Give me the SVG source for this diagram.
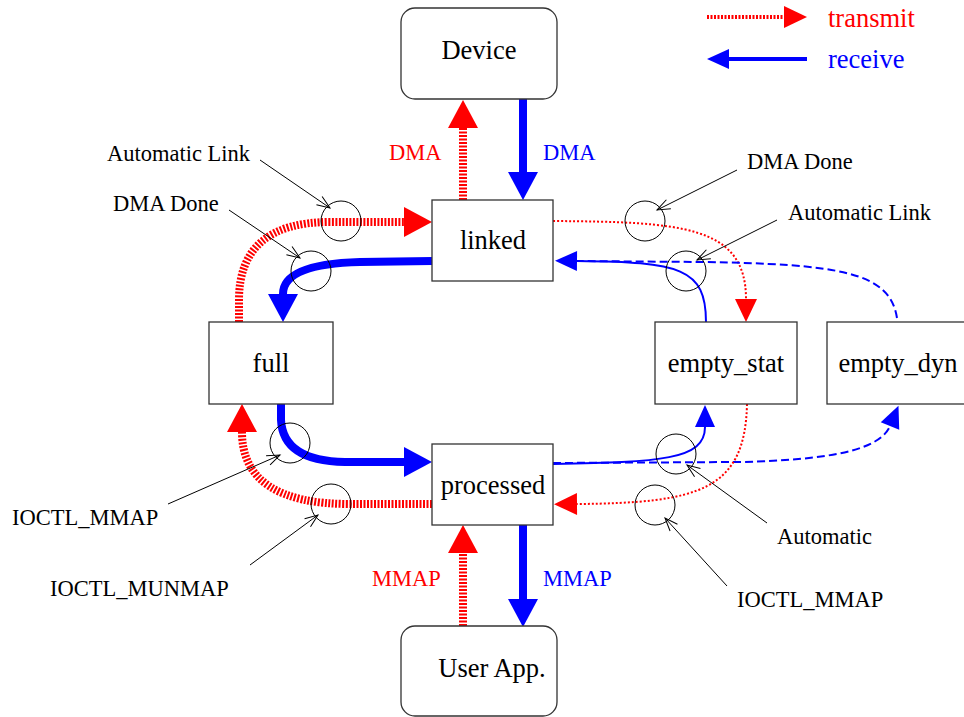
<svg xmlns="http://www.w3.org/2000/svg" width="964" height="717" viewBox="0 0 964 717">
<style>
.box{fill:#fff;stroke:#333;stroke-width:1.3}
.nl{font-family:"Liberation Serif","Times New Roman",serif;font-size:26.5px;text-anchor:middle;fill:#000}
.an{font-family:"Liberation Serif","Times New Roman",serif;font-size:22.5px;fill:#000}
.lr{font-family:"Liberation Serif","Times New Roman",serif;font-size:22.5px;fill:#f00}
.lb{font-family:"Liberation Serif","Times New Roman",serif;font-size:22.5px;fill:#00f}
.lg{font-family:"Liberation Serif","Times New Roman",serif;font-size:26.5px}
.rt{fill:none;stroke:#f00;stroke-width:8;stroke-dasharray:2 1.5}
.bt{fill:none;stroke:#00f;stroke-width:8}
.rd{fill:none;stroke:#f00;stroke-width:2;stroke-dasharray:2 2}
.bs{fill:none;stroke:#00f;stroke-width:2}
.bd{fill:none;stroke:#00f;stroke-width:2;stroke-dasharray:8 4}
.ann{fill:none;stroke:#000;stroke-width:1}
.cir{fill:none;stroke:#000;stroke-width:1}
</style>
<defs>
<marker id="mRT" markerUnits="userSpaceOnUse" viewBox="0 -15 28 30" refX="0" refY="0" markerWidth="28" markerHeight="30" orient="auto" overflow="visible"><path d="M0,-15 L28,0 L0,15 Z" fill="#f00"/></marker>
<marker id="mBT" markerUnits="userSpaceOnUse" viewBox="0 -15 28 30" refX="0" refY="0" markerWidth="28" markerHeight="30" orient="auto" overflow="visible"><path d="M0,-15 L28,0 L0,15 Z" fill="#00f"/></marker>
<marker id="mR" markerUnits="userSpaceOnUse" viewBox="0 -11 23 22" refX="0" refY="0" markerWidth="23" markerHeight="22" orient="auto" overflow="visible"><path d="M0,-11 L23,0 L0,11 Z" fill="#f00"/></marker>
<marker id="mB" markerUnits="userSpaceOnUse" viewBox="0 -10 22 20" refX="0" refY="0" markerWidth="22" markerHeight="20" orient="auto" overflow="visible"><path d="M0,-10 L22,0 L0,10 Z" fill="#00f"/></marker>
<marker id="mO" markerUnits="userSpaceOnUse" viewBox="-14 -6 16 12" refX="0" refY="0" markerWidth="16" markerHeight="12" orient="auto" overflow="visible"><path d="M-13,-5 L0,0 L-13,5" fill="none" stroke="#000" stroke-width="1"/></marker>
</defs>

<g id="legend">
<path d="M707,17 L784,17" fill="none" stroke="#f00" stroke-width="4" stroke-dasharray="2 1.5" marker-end="url(#mR)"/>
<text class="lg" x="828" y="27" fill="#f00">transmit</text>
<path d="M807,59 L729,59" fill="none" stroke="#00f" stroke-width="4" marker-end="url(#mB)"/>
<text class="lg" x="828" y="68" fill="#00f">receive</text>
</g>

<g id="connectors">
<path class="rt" d="M463,200 L463,128" marker-end="url(#mRT)"/>
<path class="bt" d="M523,99 L523,172" marker-end="url(#mBT)"/>
<path class="rt" d="M463,626 L463,553" marker-end="url(#mRT)"/>
<path class="bt" d="M523,525 L523,599" marker-end="url(#mBT)"/>
<path class="rt" d="M239,322 L239,300 Q239,222 330,222 L404,222" marker-end="url(#mRT)"/>
<path class="bt" d="M432,261 L360,262 Q283,264 283,294" marker-end="url(#mBT)"/>
<path class="bt" d="M281,404 L281,420 Q283,461 345,462 L404,462" marker-end="url(#mBT)"/>
<path class="rt" d="M432,504 L350,504 Q242,504 242,432" marker-end="url(#mRT)"/>
<path class="rd" d="M553,221 C680,222 746,225 746,299" marker-end="url(#mR)"/>
<path class="bd" d="M897,318 C890,272 840,264 700,262 L577,261"/>
<path class="bs" d="M706,322 C706,268 680,262 577,261" marker-end="url(#mB)"/>
<path class="bd" d="M553,463 L740,462 C830,460 880,450 890,426" marker-end="url(#mB)"/>
<path class="bs" d="M553,464 C660,462 705,460 705,427" marker-end="url(#mB)"/>
<path class="rd" d="M747,404 C745,490 700,503 577,504" marker-end="url(#mR)"/>
<text class="lr" x="389" y="160">DMA</text>
<text class="lb" x="543" y="160">DMA</text>
<text class="lr" x="372" y="586">MMAP</text>
<text class="lb" x="543" y="586">MMAP</text>
</g>

<g id="events">
<circle class="cir" cx="341" cy="221" r="20"/>
<circle class="cir" cx="311" cy="271" r="20"/>
<circle class="cir" cx="645" cy="221" r="20"/>
<circle class="cir" cx="686" cy="271" r="20"/>
<circle class="cir" cx="290" cy="443" r="20"/>
<circle class="cir" cx="331" cy="504" r="20"/>
<circle class="cir" cx="676" cy="454" r="20"/>
<circle class="cir" cx="655" cy="505" r="20"/>
<path class="ann" d="M260,160 L330,208" marker-end="url(#mO)"/>
<path class="ann" d="M229,210 L300,258" marker-end="url(#mO)"/>
<path class="ann" d="M168,504 L280,455" marker-end="url(#mO)"/>
<path class="ann" d="M250,565 L318,515" marker-end="url(#mO)"/>
<path class="ann" d="M737,170 L657,210" marker-end="url(#mO)"/>
<path class="ann" d="M777,220 L697,260" marker-end="url(#mO)"/>
<path class="ann" d="M767,523 L687,465" marker-end="url(#mO)"/>
<path class="ann" d="M727,586 L665,518" marker-end="url(#mO)"/>
<text class="an" x="107" y="161">Automatic Link</text>
<text class="an" x="113" y="211">DMA Done</text>
<text class="an" x="12" y="525">IOCTL_MMAP</text>
<text class="an" x="50" y="596">IOCTL_MUNMAP</text>
<text class="an" x="747" y="169">DMA Done</text>
<text class="an" x="788" y="220">Automatic Link</text>
<text class="an" x="777" y="544">Automatic</text>
<text class="an" x="737" y="607">IOCTL_MMAP</text>
</g>

<g id="device"><rect class="box" x="401" y="8" width="156" height="91" rx="14"/><text class="nl" x="479" y="59">Device</text></g>
<g id="linked"><rect class="box" x="432" y="200" width="121" height="81"/><text class="nl" x="493" y="249">linked</text></g>
<g id="full"><rect class="box" x="209" y="322" width="124" height="82"/><text class="nl" x="271" y="372">full</text></g>
<g id="empty_stat"><rect class="box" x="655" y="322" width="142" height="82"/><text class="nl" x="726" y="372">empty_stat</text></g>
<g id="empty_dyn"><rect class="box" x="827" y="322" width="142" height="82"/><text class="nl" x="898" y="372">empty_dyn</text></g>
<g id="processed"><rect class="box" x="432" y="444" width="121" height="81"/><text class="nl" x="493" y="494">processed</text></g>
<g id="userapp"><rect class="box" x="401" y="626" width="156" height="90" rx="14"/><text class="nl" x="492" y="677">User App.</text></g>
</svg>
